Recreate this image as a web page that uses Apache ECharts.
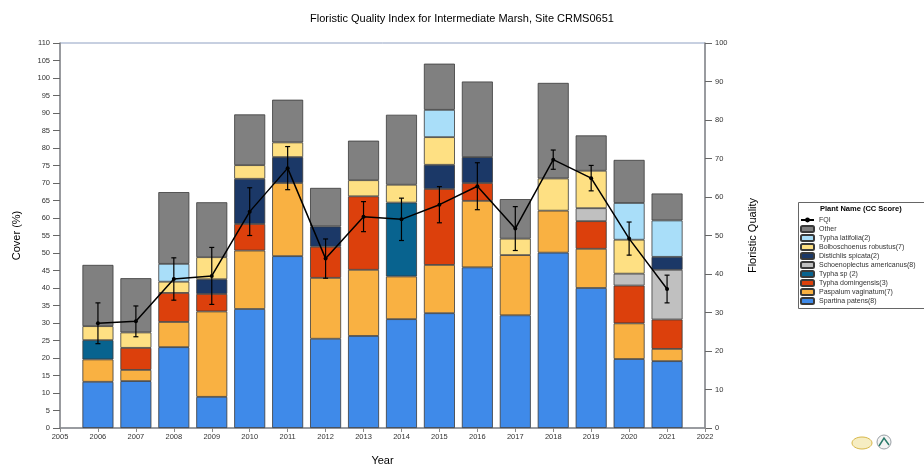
<!DOCTYPE html>
<html>
<head>
<meta charset="UTF-8">
<title>Floristic Quality Index</title>
<style>
    html, body {margin: 0; padding: 0; background: #fff;}
    #chart {width: 924px; height: 468px;}
</style>
</head>
<body>
<div id="chart"></div>
<script src="https://cdn.jsdelivr.net/npm/echarts@6/dist/echarts.min.js"></script>
<script>
// axis years (2005 and 2022 are empty ends)
var years = ['2005','2006','2007','2008','2009','2010','2011','2012','2013','2014','2015','2016','2017','2018','2019','2020','2021','2022'];
// cover (%) per species, 2006..2021, null = absent
var spartina   = [13.2, 13.4, 23.1, 8.9, 34.0, 49.1, 25.5, 26.3, 31.1, 32.8, 45.9, 32.2, 50.1, 40.0, 19.7, 19.1];
var paspalum   = [6.4, 3.2, 7.2, 24.4, 16.7, 20.9, 17.4, 18.9, 12.2, 13.8, 19.0, 17.2, 12.0, 11.2, 10.2, 3.5];
var typhaDom   = [null, 6.3, 8.3, 5.0, 7.6, null, 8.9, 21.0, null, 21.7, 5.1, null, null, 7.9, 10.8, 8.4];
var typhaSp    = [5.5, null, null, null, null, null, null, null, 21.1, null, null, null, null, null, null, null];
var schoeno    = [null, null, null, null, null, null, null, null, null, null, null, null, null, 3.7, 3.4, 14.2];
var distichlis = [null, null, null, 4.2, 12.9, 7.4, 5.8, null, null, 6.9, 7.4, null, null, null, null, 3.7];
var bolbo      = [4.0, 4.4, 3.2, 6.3, 3.9, 4.2, null, 4.6, 5.1, 7.9, null, 4.7, 9.2, 10.7, 9.7, null];
var typhaLat   = [null, null, 5.1, null, null, null, null, null, null, 7.8, null, null, null, null, 10.5, 10.4];
var other      = [17.5, 15.5, 20.5, 15.7, 14.5, 12.2, 11.0, 11.3, 20.0, 13.2, 21.6, 11.3, 27.3, 10.1, 12.3, 7.7];
// floristic quality index and error
var fqi    = [27.2, 27.7, 38.7, 39.5, 56.2, 67.5, 44.0, 54.9, 54.2, 58.0, 62.8, 51.8, 69.7, 64.9, 49.2, 36.1];
var fqiErr = [5.3, 4.0, 5.5, 7.4, 6.2, 5.6, 5.1, 3.9, 5.5, 4.7, 6.1, 5.7, 2.5, 3.3, 4.3, 3.6];

var FONT = 'Liberation Sans';

function pad(arr) {
    return [null].concat(arr).concat([null]);
}

var species = [
    {name: 'Spartina patens(8)', data: spartina, color: '#3f8ae9'},
    {name: 'Paspalum vaginatum(7)', data: paspalum, color: '#f9b142'},
    {name: 'Typha domingensis(3)', data: typhaDom, color: '#dc400c'},
    {name: 'Typha sp (2)', data: typhaSp, color: '#08638f'},
    {name: 'Schoenoplectus americanus(8)', data: schoeno, color: '#c0c0c0'},
    {name: 'Distichlis spicata(2)', data: distichlis, color: '#1b3867'},
    {name: 'Bolboschoenus robustus(7)', data: bolbo, color: '#fee083'},
    {name: 'Typha latifolia(2)', data: typhaLat, color: '#a9def9'},
    {name: 'Other', data: other, color: '#808080'}
];

var series = species.map(function (s) {
    return {
        name: s.name,
        type: 'bar',
        stack: 'cover',
        barWidth: 31,
        data: pad(s.data),
        itemStyle: {color: s.color, borderColor: '#3a3a3a', borderWidth: 0.8},
        emphasis: {disabled: true}
    };
});

series.push({
    name: 'FQI',
    type: 'line',
    yAxisIndex: 1,
    data: pad(fqi),
    symbol: 'circle',
    symbolSize: 4,
    lineStyle: {color: '#000', width: 1.5},
    itemStyle: {color: '#000'},
    z: 5
});

var errData = [];
for (var i = 0; i < fqi.length; i++) {
    errData.push([i + 1, fqi[i] - fqiErr[i], fqi[i] + fqiErr[i]]);
}
series.push({
    name: 'err',
    type: 'custom',
    yAxisIndex: 1,
    data: errData,
    z: 6,
    renderItem: function (params, api) {
        var lo = api.coord([api.value(0), api.value(1)]);
        var hi = api.coord([api.value(0), api.value(2)]);
        var w = 2.5;
        var st = {stroke: '#000', lineWidth: 1.2};
        return {
            type: 'group',
            children: [
                {type: 'line', shape: {x1: lo[0], y1: lo[1], x2: hi[0], y2: hi[1]}, style: st},
                {type: 'line', shape: {x1: lo[0] - w, y1: lo[1], x2: lo[0] + w, y2: lo[1]}, style: st},
                {type: 'line', shape: {x1: hi[0] - w, y1: hi[1], x2: hi[0] + w, y2: hi[1]}, style: st}
            ]
        };
    }
});

var tickLabel = {fontFamily: FONT, fontSize: 7.5, color: '#333'};
var axisGray = {lineStyle: {color: '#8a8a8a', width: 1.5}};

var option = {
    animation: false,
    backgroundColor: '#fff',
    title: {
        text: 'Floristic Quality Index for Intermediate Marsh, Site CRMS0651',
        left: 'center',
        top: 8,
        textStyle: {fontFamily: FONT, fontSize: 11, fontWeight: 'normal', color: '#000'}
    },
    grid: {
        left: 60, right: 219, top: 43, bottom: 40,
        outerBoundsMode: 'none',
        containLabel: false,
        show: true, borderColor: '#8fa0c2', borderWidth: 1
    },
    legend: {
        orient: 'vertical',
        left: 800,
        top: 216,
        itemWidth: 13,
        itemHeight: 6,
        itemGap: 1,
        padding: 0,
        textStyle: {fontFamily: FONT, fontSize: 7, color: '#333', lineHeight: 8},
        data: ['FQI', 'Other', 'Typha latifolia(2)', 'Bolboschoenus robustus(7)', 'Distichlis spicata(2)',
            'Schoenoplectus americanus(8)', 'Typha sp (2)', 'Typha domingensis(3)', 'Paspalum vaginatum(7)', 'Spartina patens(8)']
    },
    graphic: [
        {type: 'rect', left: 796, top: 200, shape: {width: 126, height: 106}, style: {fill: 'none', stroke: '#666', lineWidth: 1}, z: 0},
        {type: 'text', left: 820, top: 205, style: {text: 'Plant Name (CC Score)', font: 'bold 7.5px ' + FONT, fill: '#000'}},
        {type: 'ellipse', shape: {cx: 862, cy: 443, rx: 10, ry: 6}, style: {fill: '#f6edc2', stroke: '#d8b84a', lineWidth: 1}},
        {type: 'circle', shape: {cx: 884, cy: 442, r: 7}, style: {fill: '#f4f4f4', stroke: '#9aa0a6', lineWidth: 1}},
        {type: 'polyline', shape: {points: [[879, 446], [884, 438], [889, 445]]}, style: {stroke: '#2a7a6a', lineWidth: 1.5, fill: 'none'}}
    ],
    xAxis: {
        type: 'category',
        data: years,
        boundaryGap: false,
        name: 'Year',
        nameLocation: 'middle',
        nameGap: 27,
        nameTextStyle: {fontFamily: FONT, fontSize: 11, color: '#000'},
        axisLine: axisGray,
        axisTick: {show: true, inside: false, length: 4, lineStyle: {color: '#8a8a8a'}},
        axisLabel: Object.assign({margin: 5}, tickLabel),
        splitLine: {show: false}
    },
    yAxis: [{
        type: 'value',
        min: 0, max: 110, interval: 5,
        name: 'Cover (%)',
        nameLocation: 'middle',
        nameGap: 38,
        nameTextStyle: {fontFamily: FONT, fontSize: 11, color: '#000'},
        axisLine: Object.assign({show: true}, axisGray),
        axisTick: {show: true, inside: false, length: 7, lineStyle: {color: '#666'}},
        axisLabel: Object.assign({margin: 10}, tickLabel),
        splitLine: {show: false}
    }, {
        type: 'value',
        min: 0, max: 100, interval: 10,
        name: 'Floristic Quality',
        nameLocation: 'middle',
        nameGap: 42,
        nameTextStyle: {fontFamily: FONT, fontSize: 11, color: '#000'},
        axisLine: Object.assign({show: true}, axisGray),
        axisTick: {show: true, inside: false, length: 7, lineStyle: {color: '#666'}},
        axisLabel: Object.assign({margin: 10}, tickLabel),
        splitLine: {show: false}
    }],
    series: series
};

var chart = echarts.init(document.getElementById('chart'));
chart.setOption(option);
</script>
</body>
</html>
